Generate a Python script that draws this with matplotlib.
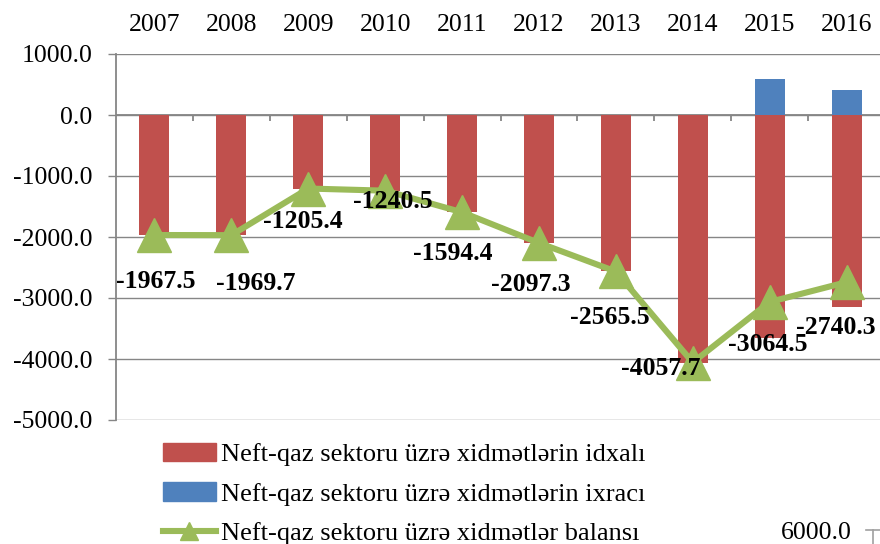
import matplotlib.pyplot as plt
from matplotlib.patches import Patch
from matplotlib.lines import Line2D
import numpy as np

years = ["2007", "2008", "2009", "2010", "2011", "2012", "2013", "2014", "2015", "2016"]
idxal = [-1967.5, -1969.7, -1205.4, -1240.5, -1594.4, -2097.3, -2565.5, -4057.7, -3660.5, -3145.3]
ixrac = [0, 0, 0, 0, 0, 0, 0, 0, 596.0, 405.0]
balans = [-1967.5, -1969.7, -1205.4, -1240.5, -1594.4, -2097.3, -2565.5, -4057.7, -3064.5, -2740.3]
legend_names = ["Neft-qaz sektoru üzrə xidmətlərin idxalı",
                "Neft-qaz sektoru üzrə xidmətlərin ixracı",
                "Neft-qaz sektoru üzrə xidmətlər balansı"]

# label offsets in pixels (dx, dy) relative to each point
lab_off = [(1, -46), (24, -48), (-5, -33), (8, -11), (-9, -41),
           (-8, -42), (-6, -46), (-32, -6), (-2, -43), (-11, -45)]

red = "#C0504D"
blue = "#4F81BD"
green = "#9BBB59"
grey = "#868686"

plt.rcParams['font.family'] = ['Liberation Serif', 'DejaVu Serif']

fig = plt.figure(figsize=(8.8, 5.44), dpi=100)
ax = fig.add_axes([116/880, 1 - 420/544, (885 - 116)/880, (420 - 54)/544])

x = np.arange(len(years))
ax.bar(x, idxal, width=0.39, color=red, zorder=2)
ax.bar(x, ixrac, width=0.39, color=blue, zorder=2)
ax.plot(x, balans, color=green, lw=4.4, marker="^", markersize=25, zorder=3)

for xi, v, (dx, dy) in zip(x, balans, lab_off):
    ax.annotate(f"{v:.1f}", (xi, v), xytext=(dx, dy), textcoords="offset pixels",
                ha="center", va="center", fontsize=18.5, fontweight="bold", zorder=4)

ax.set_xlim(-0.5, len(years) - 0.5)
ax.set_ylim(-5000, 1000)
ax.set_yticks(np.arange(-5000, 1001, 1000))
ax.yaxis.set_major_formatter(plt.FormatStrFormatter("%.1f"))
ax.grid(axis="y", color=grey, lw=1.0, zorder=0)
ax.tick_params(axis="y", length=6, width=1, color=grey, pad=11, labelsize=18.5)

ax.set_xticks(x)
ax.set_xticklabels(years)
ax.xaxis.tick_top()
ax.tick_params(axis="x", length=0, pad=13, labelsize=18.5)

for s in ["top", "right", "bottom"]:
    ax.spines[s].set_visible(False)
ax.spines["left"].set_color(grey)
ax.spines["left"].set_linewidth(1.3)

# category axis at zero with boundary ticks
ax.axhline(0, color=grey, lw=1.3, zorder=1)
ax.vlines(x[:-1] + 0.5, 0, -100, color=grey, lw=1.3, zorder=1)

handles = [Patch(color=red), Patch(color=blue),
           Line2D([], [], color=green, lw=4.4, marker="^", markersize=13)]
fig.legend(handles, legend_names, loc="upper left", bbox_to_anchor=(163/880, 1 - 443/544),
           frameon=False, fontsize=19, handlelength=2.0, handletextpad=0.2,
           labelspacing=0.6, borderpad=0, borderaxespad=0)

# fragment of the neighbouring chart at bottom right
fig.text(816/880, 1 - 533/544, "6000.0", ha="center", va="center", fontsize=18.5)
fig.add_artist(Line2D([866/880, 880/880], [1 - 530/544] * 2, color="#A0A0A0", lw=1.2))
fig.add_artist(Line2D([873/880, 873/880], [1 - 530/544, 0], color="#A0A0A0", lw=1.2))

fig.savefig("out.png", dpi=100)
